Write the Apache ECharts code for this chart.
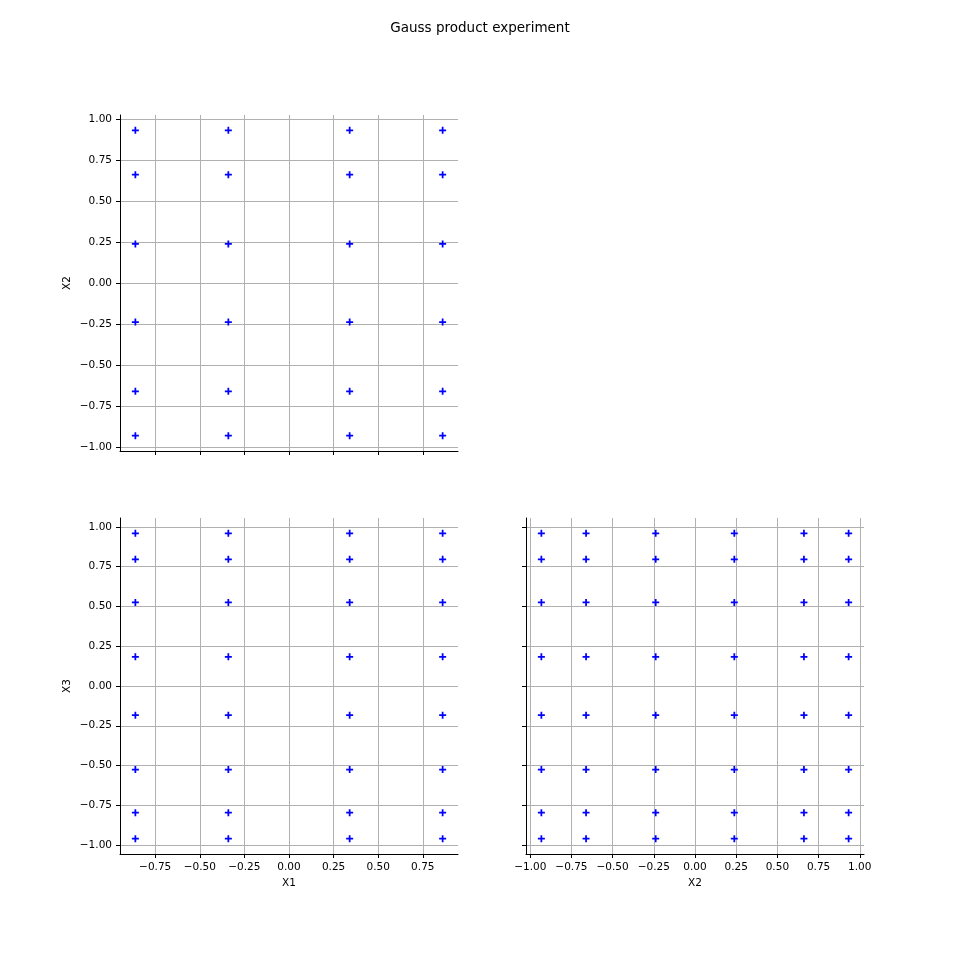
<!DOCTYPE html>
<html><head><meta charset="utf-8">
<script src="https://cdn.jsdelivr.net/npm/echarts@6/dist/echarts.min.js"></script>
<style>html,body{margin:0;padding:0;background:#fff}#c{width:960px;height:960px}</style>
</head><body><div id="c"></div>
<script>
// Node values
const x1Nodes = [-0.861136, -0.339981, 0.339981, 0.861136];
const x2Nodes = [-0.932470, -0.661209, -0.238619, 0.238619, 0.661209, 0.932470];
const x3Nodes = [-0.960290, -0.796666, -0.525532, -0.183435, 0.183435, 0.525532, 0.796666, 0.960290];
const ticksX1 = [-0.75, -0.5, -0.25, 0, 0.25, 0.5, 0.75];
const ticksX2 = [-1, -0.75, -0.5, -0.25, 0, 0.25, 0.5, 0.75, 1];
const ticksX3 = [-1, -0.75, -0.5, -0.25, 0, 0.25, 0.5, 0.75, 1];
const title = 'Gauss product experiment';

function pairs(a, b) { const out = []; a.forEach(u => b.forEach(v => out.push([u, v]))); return out; }
function ext(arr) { const lo = Math.min(...arr), hi = Math.max(...arr), m = (hi - lo) * 0.05; return [lo - m, hi + m]; }
const fmt = v => (v < 0 ? '\u2212' : '') + Math.abs(v).toFixed(2);
const FONT = 'DejaVu Sans';

function mkAxis(kind, gridIndex, nodes, ticks, showLabels, name) {
  const [mn, mx] = ext(nodes);
  const ax = {
    type: 'value', gridIndex, min: mn, max: mx,
    axisLine: { show: true, onZero: false, lineStyle: { color: '#000', width: 1 } },
    axisTick: { show: true, inside: false, length: 4, customValues: ticks, lineStyle: { color: '#000', width: 1 } },
    axisLabel: { show: showLabels, customValues: ticks, formatter: fmt, fontFamily: FONT, fontSize: 10.5, color: '#000', margin: kind === 'x' ? 8 : 8 },
    splitLine: { show: true, lineStyle: { color: '#b0b0b0', width: 1 } },
    name: name || '', nameLocation: 'middle', nameTextStyle: { fontFamily: FONT, fontSize: 10.5, color: '#000' }
  };
  if (kind === 'x') { ax.nameGap = 24; }
  else { ax.nameGap = 47; ax.nameRotate = 90; }
  return ax;
}

const plusSym = 'path://M3,0H5V3H8V5H5V8H3V5H0V3H3Z';
function mkSeries(xi, yi, data) {
  return { type: 'scatter', xAxisIndex: xi, yAxisIndex: yi, data, symbol: plusSym, symbolSize: 7,
           itemStyle: { color: '#0000ff', opacity: 1 }, silent: true, animation: false };
}

const chart = echarts.init(document.getElementById('c'), null, { renderer: 'canvas' });
chart.setOption({
  animation: false,
  backgroundColor: '#fff',
  title: { text: title, left: 'center', top: 16, textStyle: { fontFamily: FONT, fontSize: 13.5, fontWeight: 'normal', color: '#000' } },
  grid: [
    { left: 120, top: 115, width: 338, height: 336 },
    { left: 120, top: 518, width: 338, height: 336 },
    { left: 526, top: 518, width: 338, height: 336 }
  ],
  xAxis: [
    mkAxis('x', 0, x1Nodes, ticksX1, false, ''),
    mkAxis('x', 1, x1Nodes, ticksX1, true, 'X1'),
    mkAxis('x', 2, x2Nodes, ticksX2, true, 'X2')
  ],
  yAxis: [
    mkAxis('y', 0, x2Nodes, ticksX2, true, 'X2'),
    mkAxis('y', 1, x3Nodes, ticksX3, true, 'X3'),
    mkAxis('y', 2, x3Nodes, ticksX3, false, '')
  ],
  series: [
    mkSeries(0, 0, pairs(x1Nodes, x2Nodes)),
    mkSeries(1, 1, pairs(x1Nodes, x3Nodes)),
    mkSeries(2, 2, pairs(x2Nodes, x3Nodes))
  ]
});
</script>
</body></html>
